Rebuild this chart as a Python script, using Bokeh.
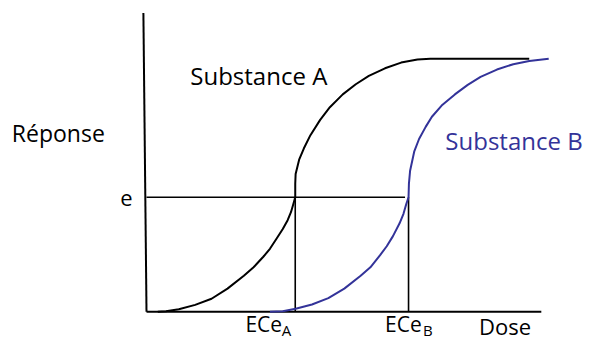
from bokeh.plotting import figure
from bokeh.models import Range1d
from bokeh.core.properties import value
from bokeh.embed import file_html
from bokeh.resources import INLINE

# ---- data (dose in arbitrary units, response in % of maximum) ----
dose_a = [0.29, 0.50, 0.83, 1.25, 1.67, 2.08, 2.50, 2.75, 3.00, 3.17, 3.33, 3.50, 3.625, 3.71, 3.77, 3.82,
          3.82, 3.83, 3.92, 4.04, 4.21, 4.46, 4.71, 5.04, 5.375, 5.71, 6.125, 6.54, 6.96, 7.29, 9.83]
resp_a = [0.0, 0.26, 1.02, 2.75, 5.17, 9.17, 14.23, 17.62, 21.77, 24.91, 28.68, 32.72, 36.23, 39.36, 42.53, 45.28,
          50.68, 54.45, 60.11, 64.53, 69.81, 75.85, 80.87, 85.92, 89.92, 93.21, 96.23, 98.49, 99.74, 100.0, 100.0]

dose_b = [3.17, 3.50, 3.83, 4.25, 4.67, 5.08, 5.50, 5.75, 6.00, 6.17, 6.33, 6.50, 6.60, 6.67, 6.73,
          6.74, 6.77, 6.875, 7.00, 7.17, 7.33, 7.58, 7.92, 8.25, 8.58, 9.00, 9.42, 9.83, 10.33]
resp_b = [0.0, 0.26, 1.25, 2.91, 5.40, 9.17, 14.23, 17.62, 22.38, 25.92, 29.92, 34.98, 38.75, 42.53, 45.28,
          50.68, 55.74, 63.28, 68.30, 73.09, 77.09, 81.51, 85.92, 89.70, 92.83, 95.74, 97.85, 99.13, 100.0]

e_level = 45.28          # response level e
ece_a = 3.82             # dose giving e for substance A
ece_b = 6.73             # dose giving e for substance B
e_line_end = 6.64
dose_axis_end = 10.14
resp_axis_top = 118.1

labels = ["Réponse", "e", "Substance A", "Substance B", "Dose"]
sub_main = ["ECe", "ECe"]
sub_idx = ["A", "B"]

BLUE = "#333399"
FONT = value("Open Sans")

p = figure(width=585, height=340, x_range=Range1d(-3.75, 11.275), y_range=Range1d(-11.32, 123.02),
           output_backend="svg", toolbar_location=None, min_border=0,
           min_border_left=0, min_border_right=0, min_border_top=0, min_border_bottom=0)
p.axis.visible = False
p.grid.visible = False
p.outline_line_color = None
p.background_fill_color = "white"
p.border_fill_color = "white"

# axes
p.line([-0.08, 0.0], [resp_axis_top, 0.0], line_color="black", line_width=2)
p.line([0.0, dose_axis_end], [0.0, 0.0], line_color="black", line_width=2)

# e line and ECe verticals
p.line([0.0, e_line_end], [e_level, e_level], line_color="black", line_width=1.6)
p.line([ece_a, ece_a], [0.0, e_level], line_color="black", line_width=1.6)
p.line([ece_b, ece_b], [0.0, e_level], line_color="black", line_width=1.6)

# curves
p.line(dose_a, resp_a, line_color="black", line_width=2, line_join="round")
p.line(dose_b, resp_b, line_color=BLUE, line_width=2, line_join="round")

# texts
p.text(x=[-3.46], y=[70.70], text=[labels[0]], text_font=FONT, text_font_size="23px",
       text_color="black", text_baseline="alphabetic", text_align="left")
p.text(x=[-0.675], y=[45.03], text=[labels[1]], text_font=FONT, text_font_size="22px",
       text_color="black", text_baseline="alphabetic", text_align="left")
p.text(x=[1.125], y=[93.49], text=[labels[2]], text_font=FONT, text_font_size="24px",
       text_color="black", text_baseline="alphabetic", text_align="left")
p.text(x=[7.675], y=[67.56], text=[labels[3]], text_font=FONT, text_font_size="24px",
       text_color=BLUE, text_baseline="alphabetic", text_align="left")
p.text(x=[8.54], y=[-5.55], text=[labels[4]], text_font=FONT, text_font_size="22px",
       text_color="black", text_baseline="alphabetic", text_align="left")

p.text(x=[2.54, 6.125], y=[-4.93, -4.93], text=sub_main, text_font=FONT, text_font_size="21px",
       text_color="black", text_baseline="alphabetic", text_align="left")
p.text(x=[3.475, 7.10], y=[-7.30, -7.30], text=sub_idx, text_font=FONT, text_font_size="15px",
       text_color="black", text_baseline="alphabetic", text_align="left")

open("out.html", "w").write(file_html(p, INLINE))
